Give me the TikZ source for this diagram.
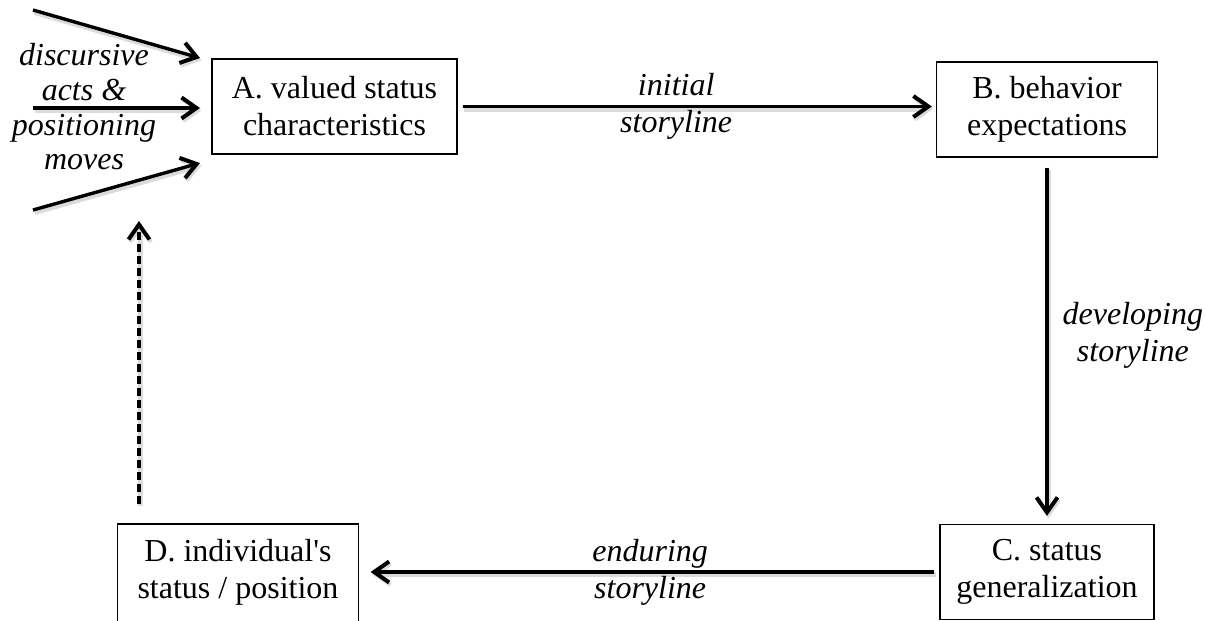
\documentclass[tikz,border=0pt]{standalone}
\usepackage{fontspec}
\setmainfont{Liberation Serif}
\usetikzlibrary{positioning,arrows.meta}

\tikzset{
    stagebox/.style={draw, line width=1.3pt, align=center, inner sep=0pt,
        minimum height=95pt, font=\fontsize{32}{37}\selectfont},
    storytext/.style={align=center, inner sep=0pt, font=\fontsize{32}{37}\selectfont\itshape},
    flow/.style={line width=3.4pt, -{Straight Barb[length=15pt,width=21pt,line width=4pt]},
        preaction={draw=black!14, line width=5pt, transform canvas={shift={(1.5pt,-2.5pt)}}}}
}

\begin{document}
\begin{tikzpicture}[x=1pt,y=-1pt]
    \useasboundingbox (0,0) rectangle (1205,621);

    % Stages
    \node[stagebox, minimum width=245pt] (A) at (334.5,106.5) {A. valued status\\characteristics};
    \node[stagebox, minimum width=221pt] (B) at (1047,109.5) {B. behavior\\expectations};
    \node[stagebox, minimum width=214pt] (C) at (1047,572) {C. status\\generalization};
    \node[stagebox, draw=none, minimum width=240pt] (D) at (238,572) {D. individual\textquotesingle s\\status / position};
    \draw[line width=1.3pt] ([yshift=-10pt]D.south west) -- (D.north west) -- (D.north east) -- ([yshift=-10pt]D.south east);

    % Inputs to A
    \node[storytext, font=\fontsize{32}{34.7}\selectfont\itshape] (moves) at (84,107) {discursive\\acts \&\\positioning\\moves};
    \coordinate (in1) at (33,10);
    \coordinate (in2) at (33,108);
    \coordinate (in3) at (33,210);
    \coordinate (tip1) at (200,58);
    \coordinate (tip2) at (200,108);
    \coordinate (tip3) at (200,163);
    \draw[flow] (in1) -- (tip1);
    \draw[flow] (in2) -- (tip2);
    \draw[flow] (in3) -- (tip3);

    % Storylines
    \draw[flow, shorten <=5pt, shorten >=4pt] (A.east) -- (A.east -| B.west)
        node[storytext, pos=0.457] {initial\\storyline};
    \draw[flow, shorten <=10pt, shorten >=8pt] (B.south) -- (C.north)
        node[storytext, pos=0.486, anchor=west, xshift=14pt] {developing\\storyline};
    \draw[flow, shorten <=5pt, shorten >=12pt] (C.west) -- (C.west -| D.east)
        node[storytext, pos=0.498] {enduring\\storyline};

    % Feedback
    \coordinate (fb) at (139,221);
    \draw[flow, dash pattern=on 8pt off 4pt] ([yshift=20pt]D.north -| fb) -- (fb);
\end{tikzpicture}
\end{document}
